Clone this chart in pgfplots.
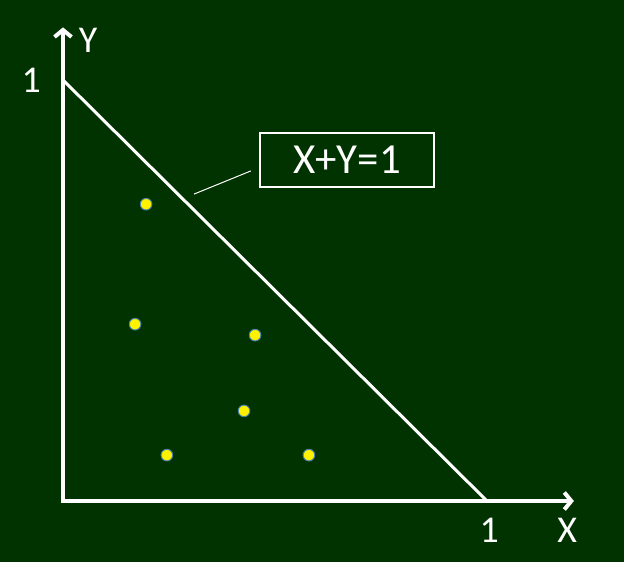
\documentclass[border=0pt]{standalone}
\usepackage{pgfplots}
\pgfplotsset{compat=1.18}
\usepackage{fontspec}
\setmainfont{Carlito}
\usetikzlibrary{arrows.meta}
\definecolor{bg}{RGB}{0,51,0}
\definecolor{dotedge}{RGB}{70,130,170}
\begin{document}
\begin{tikzpicture}
\begin{axis}[scale only axis, width=624bp, height=562bp,
  xmin=-0.14858, xmax=1.32311, ymin=-0.14489, ymax=1.19002,
  axis line style={draw=none}, xtick=\empty, ytick=\empty,
  axis background/.style={fill=bg}, clip=false]
\draw[white, line width=4bp, line join=miter, {Straight Barb[length=7bp,width=17bp]}-{Straight Barb[length=7bp,width=17bp]}]
  (axis cs:0,1.125) -- (axis cs:0,0) -- (axis cs:1.205,0);
\addplot[white, line width=3bp] coordinates {(0,1) (1,0)};
\addplot[only marks, mark=*, mark size=5.8bp, mark options={fill=yellow, draw=dotedge, line width=1bp}] coordinates {
(0.196,0.705) (0.170,0.420) (0.453,0.394) (0.427,0.214) (0.245,0.109) (0.580,0.109)};
\draw[white, line width=1bp] (axis cs:0.309,0.729) -- (axis cs:0.443,0.784);
\node[draw=white, line width=1.5bp, minimum width=174bp, minimum height=54bp, text=white, font=\fontsize{43}{46}\selectfont, inner sep=0pt] at (axis cs:0.670,0.810) {X+Y=1};
\node[text=white, font=\fontsize{38}{42}\selectfont] at (axis cs:1.005,-0.069) {1};
\node[text=white, font=\fontsize{38}{42}\selectfont] at (axis cs:1.189,-0.069) {X};
\node[text=white, font=\fontsize{38}{42}\selectfont] at (axis cs:0.059,1.095) {Y};
\node[text=white, font=\fontsize{38}{42}\selectfont] at (axis cs:-0.075,1.0) {1};
\end{axis}
\end{tikzpicture}
\end{document}
